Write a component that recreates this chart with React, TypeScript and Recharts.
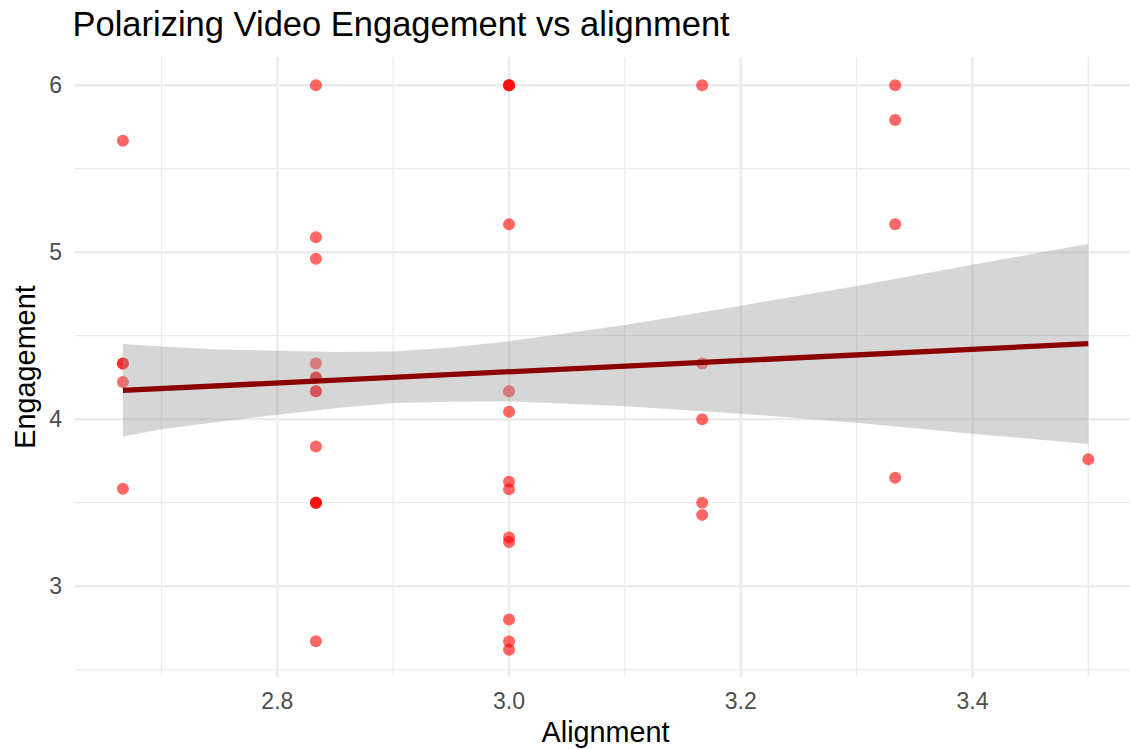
import React from 'react';
import { ComposedChart, XAxis, YAxis, CartesianGrid, Scatter, Area, Line } from 'recharts';

// ---- data ----
const alignment = [
  2.6667, 2.6667, 2.6667, 2.6667, 2.6667,
  2.8333, 2.8333, 2.8333, 2.8333, 2.8333, 2.8333, 2.8333, 2.8333, 2.8333, 2.8333, 2.8333, 2.8333, 2.8333,
  3.0, 3.0, 3.0, 3.0, 3.0, 3.0, 3.0, 3.0, 3.0, 3.0, 3.0, 3.0, 3.0,
  3.1667, 3.1667, 3.1667, 3.1667, 3.1667,
  3.3333, 3.3333, 3.3333, 3.3333,
  3.5,
];
const engagement = [
  5.667, 4.333, 4.333, 4.222, 3.583,
  6.0, 5.09, 4.96, 4.333, 4.25, 4.25, 4.167, 4.167, 3.836, 3.5, 3.5, 3.5, 2.67,
  6.0, 6.0, 6.0, 5.167, 4.167, 4.045, 3.625, 3.58, 3.292, 3.265, 2.8, 2.669, 2.62,
  6.0, 4.333, 4.0, 3.5, 3.427,
  6.0, 5.792, 5.167, 3.65,
  3.76,
];

const bandX = [2.6667, 2.7, 2.75, 2.8, 2.85, 2.9, 2.95, 3.0, 3.1, 3.2, 3.3, 3.4, 3.5];
const bandLow = [3.897, 3.94, 3.985, 4.027, 4.066, 4.097, 4.104, 4.107, 4.077, 4.033, 3.978, 3.913, 3.851];
const bandHigh = [4.45, 4.436, 4.418, 4.41, 4.403, 4.406, 4.43, 4.466, 4.564, 4.68, 4.798, 4.925, 5.049];

const fitX = [2.6667, 3.5];
const fitY = [4.172, 4.452];

const xTicks = [2.8, 3.0, 3.2, 3.4];
const xMinor = [2.7, 2.9, 3.1, 3.3, 3.5];
const yTicks = [3, 4, 5, 6];
const yMinor = [2.5, 3.5, 4.5, 5.5];
const xDomain: [number, number] = [2.625, 3.541667];
const yDomain: [number, number] = [2.45625, 6.16875];

const FONT = '"Liberation Sans", Arial, Helvetica, sans-serif';

const points = alignment.map((x, i) => ({ x, y: engagement[i] }));
const band = bandX.map((x, i) => ({ x, y: [bandLow[i], bandHigh[i]] }));
const fit = fitX.map((x, i) => ({ x, y: fitY[i] }));

const Dot = (props: any) => {
  const { cx, cy } = props;
  if (cx == null || cy == null) return null;
  return <circle cx={cx} cy={cy} r={6} fill="#FF0000" fillOpacity={0.6} />;
};

const makeH = (vals: number[]) => (props: any) => {
  const { yAxis, offset } = props;
  return vals.map((v) =>
    yAxis && typeof yAxis.scale === 'function'
      ? yAxis.scale(v)
      : offset.top + (offset.height * (yDomain[1] - v)) / (yDomain[1] - yDomain[0])
  );
};
const makeV = (vals: number[]) => (props: any) => {
  const { xAxis, offset } = props;
  return vals.map((v) =>
    xAxis && typeof xAxis.scale === 'function'
      ? xAxis.scale(v)
      : offset.left + (offset.width * (v - xDomain[0])) / (xDomain[1] - xDomain[0])
  );
};

export default function App() {
  return (
    <div
      style={{
        position: 'fixed',
        left: 0,
        top: 0,
        width: 1130,
        height: 749,
        overflow: 'hidden',
        background: '#FFFFFF',
      }}
    >
      <ComposedChart
        width={1140}
        height={749}
        margin={{ top: 57, right: 3.4, bottom: 32, left: 14.6 }}
        style={{ position: 'absolute', left: 0, top: 0 }}
      >
        <CartesianGrid
          stroke="#EBEBEB"
          strokeWidth={1.3}
          horizontalCoordinatesGenerator={makeH(yMinor)}
          verticalCoordinatesGenerator={makeV(xMinor)}
          syncWithTicks={false}
        />
        <CartesianGrid
          stroke="#EBEBEB"
          strokeWidth={2.5}
          horizontalCoordinatesGenerator={makeH(yTicks)}
          verticalCoordinatesGenerator={makeV(xTicks)}
          syncWithTicks={false}
        />
        <XAxis
          type="number"
          dataKey="x"
          domain={xDomain}
          allowDataOverflow
          ticks={xTicks}
          tickFormatter={(v: number) => v.toFixed(1)}
          axisLine={false}
          tickLine={false}
          tickSize={0}
          tickMargin={15.7}
          height={40}
          tick={{ fill: '#4D4D4D', fontSize: 23, fontFamily: FONT }}
        />
        <YAxis
          type="number"
          dataKey="y"
          domain={yDomain}
          allowDataOverflow
          ticks={yTicks}
          axisLine={false}
          tickLine={false}
          tickSize={0}
          tickMargin={12.6}
          width={60}
          tick={{ fill: '#4D4D4D', fontSize: 23, fontFamily: FONT }}
        />
        <Scatter
          data={points}
          dataKey="y"
          shape={Dot}
          isAnimationActive={false}
          {...({ zIndex: 50 } as any)}
        />
        <Area
          data={band}
          dataKey="y"
          type="linear"
          stroke="none"
          fill="#999999"
          fillOpacity={0.4}
          dot={false}
          activeDot={false}
          isAnimationActive={false}
          {...({ zIndex: 100 } as any)}
        />
        <Line
          data={fit}
          dataKey="y"
          type="linear"
          stroke="#8B0000"
          strokeWidth={5.3}
          dot={false}
          activeDot={false}
          isAnimationActive={false}
          {...({ zIndex: 400 } as any)}
        />
      </ComposedChart>
      <svg
        width={1130}
        height={749}
        style={{ position: 'absolute', left: 0, top: 0, pointerEvents: 'none' }}
      >
        <text x={72.5} y={36} fontSize={34.5} fontFamily={FONT} fill="#000000">
          Polarizing Video Engagement vs alignment
        </text>
        <text x={605.6} y={742} fontSize={28.8} fontFamily={FONT} fill="#000000" textAnchor="middle">
          Alignment
        </text>
        <text
          x={-367}
          y={35}
          transform="rotate(-90)"
          fontSize={28.8}
          fontFamily={FONT}
          fill="#000000"
          textAnchor="middle"
        >
          Engagement
        </text>
      </svg>
    </div>
  );
}
